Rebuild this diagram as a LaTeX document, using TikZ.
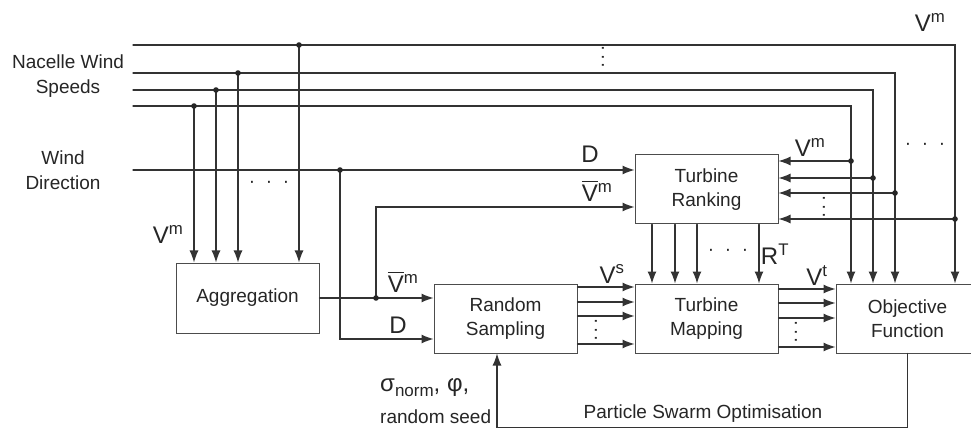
\documentclass[tikz,border=0pt]{standalone}
\usepackage{fontspec}
\setmainfont{Liberation Sans}
\usetikzlibrary{arrows.meta,calc}
\newcommand{\figfont}{\fontsize{19}{24.5}\selectfont}
\newcommand{\symfont}{\fontsize{24}{28}\selectfont}
\newcommand{\dotrow}[1]{·\hspace{#1}·\hspace{#1}·}
\newcommand{\vbar}{\rlap{\raisebox{19.5pt}{\rule{16pt}{1.3pt}}}V\textsuperscript{m}}
\tikzset{
  blk/.style={draw=black!70,line width=1pt,minimum width=143pt,minimum height=69pt,align=center,font=\figfont,text=black!85},
  wire/.style={draw=black!80,line width=1.2pt},
  arr/.style={-{Latex[length=12pt,width=9pt]}},
  lbl/.style={font=\figfont,text=black!85,inner sep=0pt,align=center},
  sym/.style={lbl,font=\symfont},
  jdot/.style={fill=black!85}
}
\begin{document}
\begin{tikzpicture}[x=1pt,y=-1pt,line cap=round]
  \path[fill=white,use as bounding box] (0,0) rectangle (971,430);
  % blocks
  \node[blk,minimum height=70pt] (agg) at (247.5,298) {Aggregation};
  \node[blk] (rs) at (505.5,318.5) {Random\\Sampling};
  \node[blk] (tr) at (706.5,189.5) {Turbine\\Ranking};
  \node[blk] (tm) at (706.5,318.5) {Turbine\\Mapping};
  \node[blk] (of) at (907.5,318.5) {Objective\\Function};
  % inputs
  \node[lbl] (nws) at (68,76) {Nacelle Wind\\Speeds};
  \node[lbl] (wdl) at (63,170) {Wind\\Direction};
  % nacelle wind speed lines
  \foreach \i/\y/\xa/\xb/\yb in {1/45/299/955/219,2/73/238/895/193,3/90/216/873/178,4/106/194/851/161}{
    \coordinate (ns\i) at (133,\y);
    \coordinate (na\i) at (\xa,\y);
    \coordinate (nc\i) at (\xb,\y);
    \coordinate (nr\i) at (\xb,\yb);
    \draw[wire,arr] (ns\i) -- (nc\i) -- (nc\i |- of.north);
    \draw[wire,arr] (na\i) -- (na\i |- agg.north);
    \draw[wire,arr] (nr\i) -- (nr\i -| tr.east);
    \fill[jdot] (na\i) circle (2.8pt);
    \fill[jdot] (nr\i) circle (2.8pt);
  }
  % wind direction
  \coordinate (wd) at (133,170);
  \coordinate (wj) at (340,170);
  \draw[wire,arr] (wd) -- (wd -| tr.west);
  \draw[wire,arr] (wj) |- ([yshift=-20.5pt]rs.west);
  \fill[jdot] (wj) circle (2.8pt);
  % aggregation output
  \coordinate (aj) at (376,298);
  \draw[wire,arr] (agg.east) -- (agg.east -| rs.west);
  \draw[wire,arr] (aj) |- ([yshift=-17.5pt]tr.west);
  \fill[jdot] (aj) circle (2.8pt);
  % block to block
  \foreach \dx in {-54.5,-31.5,-9.5,52.5}
    \draw[wire,arr] ([xshift=\dx pt]tr.south) -- ([xshift=\dx pt]tm.north);
  \foreach \dy in {31.5,16.5,2.5,-25.5}
    \draw[wire,arr] ([yshift=\dy pt]rs.east) -- ([yshift=\dy pt]tm.west);
  \foreach \dy in {29.5,15.5,0.5,-28.5}
    \draw[wire,arr] ([yshift=\dy pt]tm.east) -- ([yshift=\dy pt]of.west);
  % feedback
  \draw[wire,arr] (of.south) -- ++(0,74) -| ([xshift=-8.5pt]rs.south);
  % labels
  \node[sym] (vmtop) at (930,22) {V\textsuperscript{m}};
  \node[sym] (vmagg) at (168,234) {V\textsuperscript{m}};
  \node[sym] (dtr) at (590,154) {D};
  \node[sym] (vbtr) at (597,191) {\vbar};
  \node[sym] (vmtr) at (810,147) {V\textsuperscript{m}};
  \node[sym] (rt) at (775,254) {R\textsuperscript{T}};
  \node[sym] (vs) at (612,274) {V\textsuperscript{s}};
  \node[sym] (vt) at (817,276) {V\textsuperscript{t}};
  \node[sym] (vbrs) at (403,282) {\vbar};
  \node[sym] (drs) at (398,325) {D};
  \node[sym,anchor=west] (par) at (380,388) {σ\raisebox{-5pt}{\fontsize{17}{17}\selectfont norm}, φ,};
  \node[lbl,anchor=west] (seed) at (380,417) {random seed};
  \node[lbl] (pso) at (703,414) {Particle Swarm Optimisation};
  % ellipses
  \node[lbl] (dwd) at (269,184) {\dotrow{10.7pt}};
  \node[lbl] (dtm) at (728,252) {\dotrow{10.7pt}};
  \node[lbl] (drt) at (925,146) {\dotrow{10.7pt}};
  \node[lbl,rotate=90] (dtop) at (605,57) {\dotrow{2.2pt}};
  \node[lbl,rotate=90] (dtrv) at (826,207) {\dotrow{2.2pt}};
  \node[lbl,rotate=90] (drsv) at (598,330) {\dotrow{2.2pt}};
  \node[lbl,rotate=90] (dofv) at (798,332) {\dotrow{2.2pt}};
\end{tikzpicture}
\end{document}
